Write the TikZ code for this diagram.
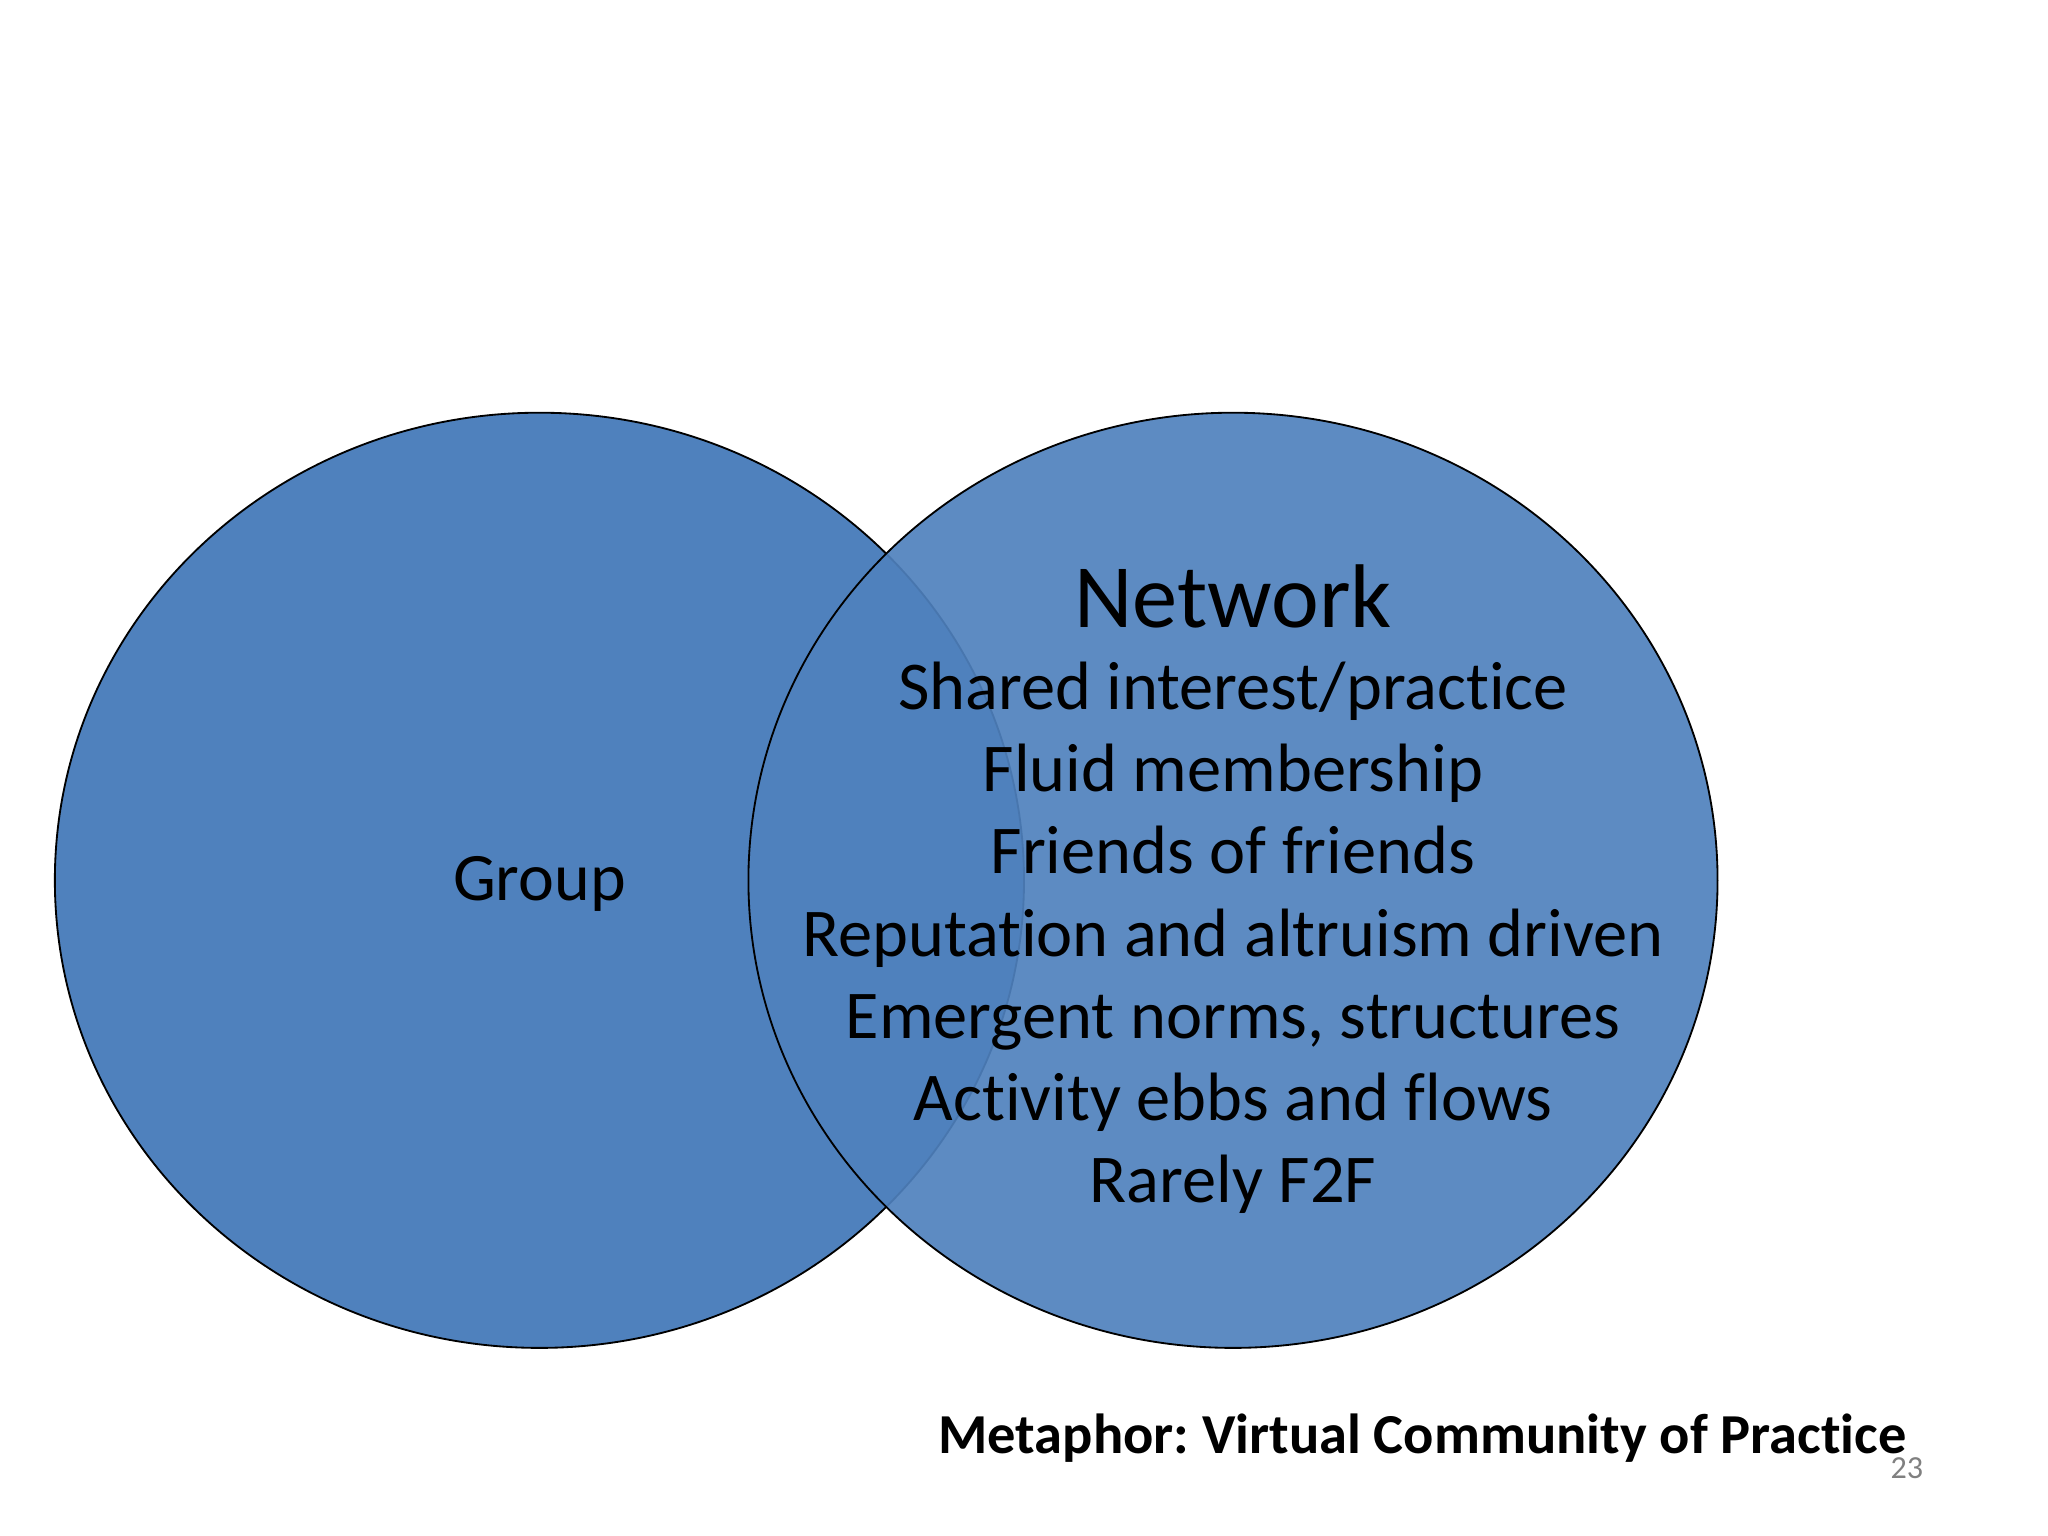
\documentclass[tikz,border=0pt]{standalone}
\usepackage{fontspec}
\setmainfont{Carlito}[Ligatures=NoCommon]
\usetikzlibrary{shapes.geometric}
\definecolor{setblue}{HTML}{4F81BD}
\frenchspacing
\begin{document}
\begin{tikzpicture}
                \useasboundingbox (0,0) rectangle (15.68,11.76);
                % Circles
                \node at (4.13,5.02) [ellipse, draw, fill=setblue, minimum width=7.42cm, minimum height=7.16cm] (group) {};
                \node at (9.44,5.02) [ellipse, draw, fill=setblue, fill opacity=0.92, minimum width=7.42cm, minimum height=7.16cm] (network) {};
                
                % Labels
                \node at (4.13,4.99) [font=\fontsize{14.8}{18}\selectfont] (grouplabel) {Group};
                \node at (9.44,7.19) [font=\fontsize{19.7}{24}\selectfont] (title) {Network};
                \node at (9.44,4.58) [font=\fontsize{14.9}{17.9}\selectfont, align=center] (items) {Shared interest/practice\\Fluid membership\\Friends of friends\\Reputation and altruism driven\\Emergent norms, structures\\Activity ebbs and flows\\Rarely F2F};
                \node at (14.72,0.75) [anchor=east, font=\fontsize{12.3}{15}\selectfont\bfseries] (metaphor) {Metaphor: Virtual Community of Practice};
                \node at (14.60,0.52) [font=\fontsize{7}{8}\selectfont, text=gray] (page) {23};
                
                \end{tikzpicture}
\end{document}
